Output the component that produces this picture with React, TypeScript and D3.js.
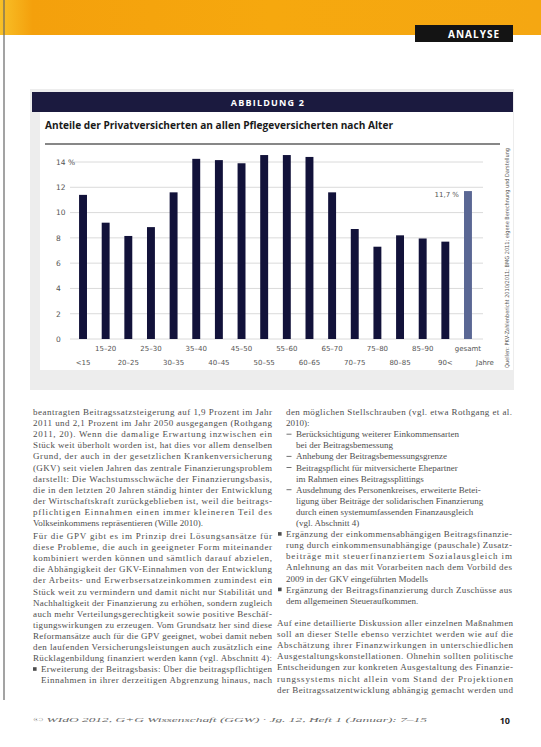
import React from "react";
import * as d3 from "d3";

const categories = ["<15","15–20","20–25","25–30","30–35","35–40","40–45","45–50","50–55","55–60","60–65","65–70","70–75","75–80","80–85","85–90","90<","gesamt"];
const shares = [11.4, 9.2, 8.15, 8.85, 11.6, 14.25, 14.15, 13.9, 14.55, 14.55, 14.4, 11.6, 8.7, 7.3, 8.2, 7.95, 7.7, 11.7];
const yTicks = [0, 2, 4, 6, 8, 10, 12, 14];
const totalLabel = "11,7 %";

// [text, justified, indent, marker]
const bodyLeft: [string, number, number, string][] = [
  ["beantragten Beitragssatzsteigerung auf 1,9 Prozent im Jahr", 1, 0, ""],
  ["2011 und 2,1 Prozent im Jahr 2050 ausgegangen (Rothgang", 1, 0, ""],
  ["2011, 20). Wenn die damalige Erwartung inzwischen ein", 1, 0, ""],
  ["Stück weit überholt worden ist, hat dies vor allem denselben", 1, 0, ""],
  ["Grund, der auch in der gesetzlichen Krankenversicherung", 1, 0, ""],
  ["(GKV) seit vielen Jahren das zentrale Finanzierungsproblem", 1, 0, ""],
  ["darstellt: Die Wachstumsschwäche der Finanzierungsbasis,", 1, 0, ""],
  ["die in den letzten 20 Jahren ständig hinter der Entwicklung", 1, 0, ""],
  ["der Wirtschaftskraft zurückgeblieben ist, weil die beitrags-", 1, 0, ""],
  ["pflichtigen Einnahmen einen immer kleineren Teil des", 1, 0, ""],
  ["Volkseinkommens repräsentieren (Wille 2010).", 0, 0, ""],
];
const bodyLeft2: [string, number, number, string][] = [
  ["Für die GPV gibt es im Prinzip drei Lösungsansätze für", 1, 0, ""],
  ["diese Probleme, die auch in geeigneter Form miteinander", 1, 0, ""],
  ["kombiniert werden können und sämtlich darauf abzielen,", 1, 0, ""],
  ["die Abhängigkeit der GKV-Einnahmen von der Entwicklung", 1, 0, ""],
  ["der Arbeits- und Erwerbsersatzeinkommen zumindest ein", 1, 0, ""],
  ["Stück weit zu vermindern und damit nicht nur Stabilität und", 1, 0, ""],
  ["Nachhaltigkeit der Finanzierung zu erhöhen, sondern zugleich", 1, 0, ""],
  ["auch mehr Verteilungsgerechtigkeit sowie positive Beschäf-", 1, 0, ""],
  ["tigungswirkungen zu erzeugen. Vom Grundsatz her sind diese", 1, 0, ""],
  ["Reformansätze auch für die GPV geeignet, wobei damit neben", 1, 0, ""],
  ["den laufenden Versicherungsleistungen auch zusätzlich eine", 1, 0, ""],
  ["Rücklagenbildung finanziert werden kann (vgl. Abschnitt 4):", 1, 0, ""],
  ["Erweiterung der Beitragsbasis: Über die beitragspflichtigen", 1, 8, "bullet"],
  ["Einnahmen in ihrer derzeitigen Abgrenzung hinaus, nach", 1, 8, ""],
];
const bodyRight: [string, number, number, string][] = [
  ["den möglichen Stellschrauben (vgl. etwa Rothgang et al.", 1, 0, ""],
  ["2010):", 0, 0, ""],
  ["Berücksichtigung weiterer Einkommensarten", 0, 10, "dash"],
  ["bei der Beitragsbemessung", 0, 10, ""],
  ["Anhebung der Beitragsbemessungsgrenze", 0, 10, "dash"],
  ["Beitragspflicht für mitversicherte Ehepartner", 0, 10, "dash"],
  ["im Rahmen eines Beitragssplittings", 0, 10, ""],
  ["Ausdehnung des Personenkreises, erweiterte Betei-", 0, 10, "dash"],
  ["ligung über Beiträge der solidarischen Finanzierung", 0, 10, ""],
  ["durch einen systemumfassenden Finanzausgleich", 0, 10, ""],
  ["(vgl. Abschnitt 4)", 0, 10, ""],
  ["Ergänzung der einkommensabhängigen Beitragsfinanzie-", 1, 0, "hang"],
  ["rung durch einkommensunabhängige (pauschale) Zusatz-", 1, 0, ""],
  ["beiträge mit steuerfinanziertem Sozialausgleich im", 1, 0, ""],
  ["Anlehnung an das mit Vorarbeiten nach dem Vorbild des", 1, 0, ""],
  ["2009 in der GKV eingeführten Modells", 0, 0, ""],
  ["Ergänzung der Beitragsfinanzierung durch Zuschüsse aus", 1, 0, "hang"],
  ["dem allgemeinen Steueraufkommen.", 0, 0, ""],
];
const bodyRight2: [string, number, number, string][] = [
  ["Auf eine detaillierte Diskussion aller einzelnen Maßnahmen", 1, 0, ""],
  ["soll an dieser Stelle ebenso verzichtet werden wie auf die", 1, 0, ""],
  ["Abschätzung ihrer Finanzwirkungen in unterschiedlichen", 1, 0, ""],
  ["Ausgestaltungskonstellationen. Ohnehin sollten politische", 1, 0, ""],
  ["Entscheidungen zur konkreten Ausgestaltung des Finanzie-", 1, 0, ""],
  ["rungssystems nicht allein vom Stand der Projektionen", 1, 0, ""],
  ["der Beitragssatzentwicklung abhängig gemacht werden und", 1, 0, ""],
];

const W = 541, H = 747;
const INK = "#4e4e4e";

export default function App() {
  const x = d3.scaleBand<string>().domain(categories).range([71.7, 479.3]).paddingInner(0.65).paddingOuter(0.325);
  const y = d3.scaleLinear().domain([0, 14]).range([339, 162]);
  const lineH = 11.1;
  const bodyFont = "'Liberation Serif', 'DejaVu Serif', serif";
  const renderCol = (lines: [string, number, number, string][], x0: number, width: number, y0: number) =>
    lines.map(([t, j, ind, m], i) => {
      const yy = y0 + i * lineH;
      let marker = null;
      if (m === "bullet") marker = <rect x={x0} y={yy - 5} width={3.6} height={3.6} fill={INK} />;
      if (m === "hang") marker = <rect x={x0 - 8} y={yy - 5} width={3.6} height={3.6} fill={INK} />;
      if (m === "dash") marker = <line x1={x0 + 0.5} x2={x0 + 5.5} y1={yy - 3} y2={yy - 3} stroke={INK} strokeWidth={0.8} />;
      return (
        <g key={i}>
          {marker}
          <text x={x0 + ind} y={yy} fontSize={9} fontFamily={bodyFont} fill={INK}
            {...(j ? { textLength: width - ind, lengthAdjust: "spacing" } : {})}>{t}</text>
        </g>
      );
    });
  return (
    <svg width={W} height={H} style={{ position: "absolute", left: 0, top: 0, background: "#fff" }}>
      <defs>
        <linearGradient id="band" x1="0" x2="1" y1="0" y2="0">
          <stop offset="0" stopColor="#f8c028" />
          <stop offset="0.06" stopColor="#f4a00c" />
          <stop offset="0.5" stopColor="#f6a80e" />
          <stop offset="1" stopColor="#f5a712" />
        </linearGradient>
      </defs>
      <rect x={0} y={0} width={W} height={H} fill="#ffffff" />
      <rect x={0} y={0} width={W} height={35} fill="url(#band)" />
      <line x1={4} x2={4} y1={0} y2={700} stroke="#666" strokeWidth={1.2} />
      <rect x={415} y={25} width={98} height={17} fill="#141414" />
      <text x={500} y={37.5} textAnchor="end" fill="#fff" fontSize={10} fontWeight={700}
        fontFamily="'Open Sans', sans-serif" letterSpacing={1}>ANALYSE</text>

      {/* chart panel */}
      <rect x={30} y={89} width={484} height={301} fill="#ededed" />
      <rect x={40} y={112} width={473} height={258} fill="#ffffff" />
      <rect x={32} y={92} width={481} height={20} fill="#1b1a3f" />
      <text x={268} y={105.5} textAnchor="middle" fill="#fff" fontSize={9} fontWeight={700}
        fontFamily="'Open Sans', sans-serif" letterSpacing={1.2}>ABBILDUNG 2</text>
      <text x={45} y={129} fontSize={10.5} fontWeight={700} fill="#1a1a1a"
        fontFamily="'Open Sans', sans-serif" textLength={348} lengthAdjust="spacingAndGlyphs">
        Anteile der Privatversicherten an allen Pflegeversicherten nach Alter</text>
      <line x1={45} x2={500} y1={144} y2={144} stroke="#111" strokeWidth={1.2} />

      {yTicks.map((t) => (
        <g key={t}>
          <line x1={70} x2={483} y1={y(t)} y2={y(t)} stroke="#d6d6d6" strokeWidth={0.9} />
          <text x={56} y={y(t) + 2.8} fontSize={7.5} fill="#555" fontFamily="'DejaVu Sans', sans-serif">
            {t === 14 ? "14 %" : String(t)}</text>
        </g>
      ))}

      {categories.map((c, i) => (
        <rect key={c} x={x(c)} y={y(shares[i])} width={x.bandwidth()} height={y(0) - y(shares[i])}
          fill={c === "gesamt" ? "#5a6794" : "#12123a"} />
      ))}
      <text x={459} y={197} textAnchor="end" fontSize={7} fill="#555" fontFamily="'DejaVu Sans', sans-serif">{totalLabel}</text>

      {categories.map((c, i) => (
        <text key={c} x={(x(c) as number) + x.bandwidth() / 2} y={i % 2 === 1 ? 350.5 : 364.5}
          textAnchor="middle" fontSize={7} fill="#555" fontFamily="'DejaVu Sans', sans-serif">{c}</text>
      ))}
      <text x={485} y={364.5} textAnchor="middle" fontSize={7} fill="#555" fontFamily="'DejaVu Sans', sans-serif">Jahre</text>

      <text transform="translate(509,258) rotate(-90)" textAnchor="middle" fontSize={5.6} fill="#555"
        fontFamily="'DejaVu Sans', sans-serif" textLength={220} lengthAdjust="spacingAndGlyphs">
        Quellen: PKV-Zahlenbericht 2010/2011; BMG 2011; eigene Berechnung und Darstellung</text>

      {/* body text */}
      {renderCol(bodyLeft, 33, 239, 415)}
      {renderCol(bodyLeft2, 33, 239, 539)}
      {renderCol(bodyRight, 286, 226, 415)}
      {renderCol(bodyRight2, 277, 236, 626)}

      <text x={33} y={722} fontSize={6.5} fontStyle="italic" fill="#666" fontFamily={bodyFont}
        textLength={394} lengthAdjust="spacingAndGlyphs">
        © WIdO 2012, G+G Wissenschaft (GGW) · Jg. 12, Heft 1 (Januar): 7–15</text>
      <text x={510} y={724} textAnchor="end" fontSize={9} fontWeight={700} fill="#222"
        fontFamily="'Open Sans', sans-serif">10</text>
    </svg>
  );
}
